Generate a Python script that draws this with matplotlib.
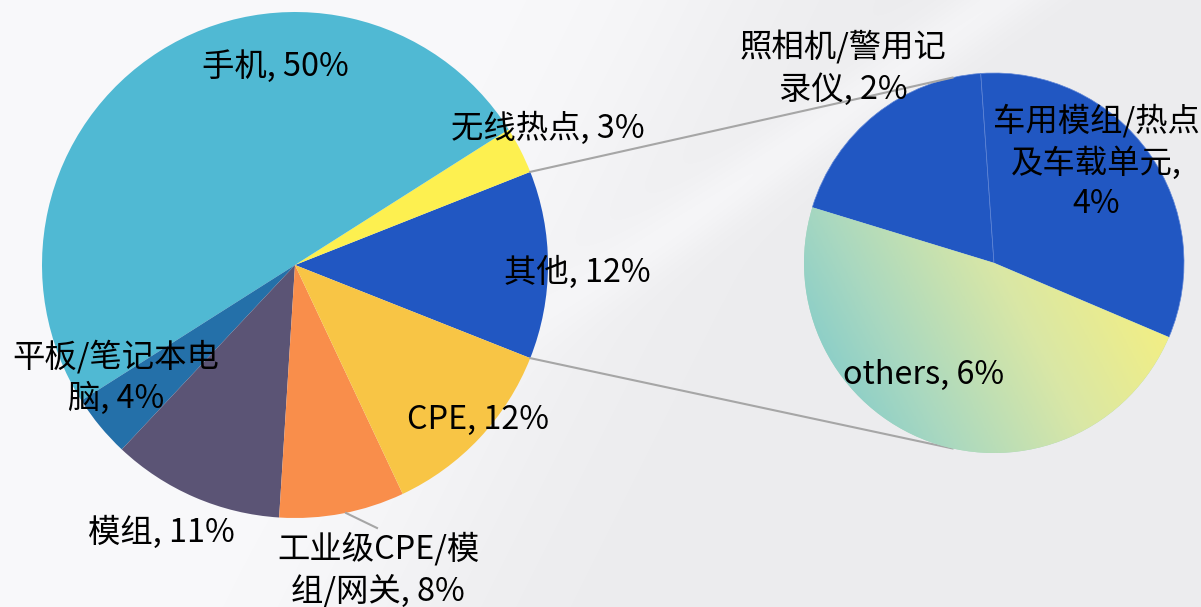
import numpy as np
import matplotlib
matplotlib.use("Agg")
import matplotlib.pyplot as plt
from matplotlib.colors import LinearSegmentedColormap

plt.rcParams['font.family'] = ['Noto Sans CJK SC', 'DejaVu Sans']

# ---- data ----
main_names = ["其他", "无线热点", "手机", "平板/笔记本电\n脑", "模组", "工业级CPE/模\n组/网关", "CPE"]
main_values = [12, 3, 50, 4, 11, 8, 12]
main_colors = ["#2157C2", "#FDF050", "#50B9D3", "#2470A9", "#5B5475", "#F98E4B", "#F8C545"]

sub_names = ["照相机/警用记\n录仪", "others", "车用模组/热点\n及车载单元,\n"]
sub_values = [2.3, 5.8, 3.9]
sub_colors = ["#2157C2", "#A8D8C0", "#2157C2"]

W, H = 1201, 607
fig = plt.figure(figsize=(W / 100, H / 100), dpi=100)
ax = fig.add_axes([0, 0, 1, 1])
ax.set_xlim(0, W)
ax.set_ylim(0, H)
ax.set_aspect('equal')
ax.axis('off')

# ---- background ----
yy, xx = np.mgrid[0:H, 0:W]
ypix = H - yy
w = 1 / (1 + np.exp(-(700 - xx - 0.5 * ypix) / 70.0))
fade = 1 / (1 + np.exp((ypix - 300) / 40.0))
band = np.exp(-((xx + 1.4 * ypix - 1000) / 50.0) ** 2) * fade * 0.6
w = np.clip(w + band, 0, 1)
base = np.array([236, 236, 238]) / 255
white = np.array([249, 249, 251]) / 255
bg = base[None, None, :] * (1 - w[..., None]) + white[None, None, :] * w[..., None]
ax.imshow(bg, extent=(0, W, 0, H), origin='lower', zorder=0, aspect='auto')

# ---- main pie ----
c1 = (295, H - 265)
r1 = 253
total = sum(main_values)
start1 = -main_values[0] / total * 360 / 2
wedges1, _ = ax.pie(main_values, colors=main_colors, startangle=start1, counterclock=True,
                    center=c1, radius=r1, wedgeprops=dict(linewidth=0), frame=True)

# ---- second pie ----
c2 = (994, H - 263)
r2 = 190
wedges2, _ = ax.pie(sub_values, colors=sub_colors, startangle=94, counterclock=True,
                    center=c2, radius=r2, wedgeprops=dict(linewidth=0), frame=True)
for wd in (wedges2[0], wedges2[2]):
    wd.set_edgecolor("#5F85D6")
    wd.set_linewidth(0.5)

# gradient for "others"
gx0, gx1 = c2[0] - r2, c2[0] + r2
gy0, gy1 = c2[1] - r2, c2[1] + r2
gy, gx = np.mgrid[gy0:gy1:300j, gx0:gx1:300j]
ang = np.deg2rad(28)
t = ((gx - gx0) * np.cos(ang) + (gy - gy0) * np.sin(ang))
t = (t - t.min()) / (t.max() - t.min())
cmap = LinearSegmentedColormap.from_list("g", ["#72C6CF", "#A9D8C0", "#D9E7A6", "#F4EF82", "#F5EF80"])
im = ax.imshow(t, extent=(gx0, gx1, gy0, gy1), origin='lower', cmap=cmap, zorder=3, aspect='auto')
im.set_clip_path(wedges2[1])
wedges2[1].set_zorder(2)

ax.set_xlim(0, W)
ax.set_ylim(0, H)
ax.axis('off')

# ---- connector lines ----
half = np.deg2rad(main_values[0] / total * 360 / 2)
for s in (1, -1):
    p1 = (c1[0] + r1 * np.cos(s * half), c1[1] + r1 * np.sin(s * half))
    a2 = np.deg2rad(s * 102.6)
    p2 = (c2[0] + r2 * np.cos(a2), c2[1] + r2 * np.sin(a2))
    ax.plot([p1[0], p2[0]], [p1[1], p2[1]], color="#A6A6A6", lw=1.5, zorder=1)

# leader for 工业级 label
ax.plot([346, 377], [H - 513, H - 528], color="#A6A6A6", lw=1.5, zorder=4)

# ---- labels ----
fs = 23.3
ls = 1.32
main_pos = [(577, 272), (548, 128), (275, 67), (116, 377), (161, 532), (378, 570), (478, 420)]
for name, v, (x, y) in zip(main_names, main_values, main_pos):
    ax.text(x, H - y, f"{name}, {round(v)}%", ha='center', va='center', ma='center',
            fontsize=fs, color='black', zorder=6, linespacing=ls)

sub_pos = [(843, 68), (924, 375), (1096, 162)]
for name, v, (x, y) in zip(sub_names, sub_values, sub_pos):
    sep = "" if name.endswith("\n") else ", "
    ax.text(x, H - y, f"{name}{sep}{round(v)}%", ha='center', va='center', ma='center',
            fontsize=fs, color='black', zorder=6, linespacing=ls)

fig.savefig("out.png", dpi=100)
